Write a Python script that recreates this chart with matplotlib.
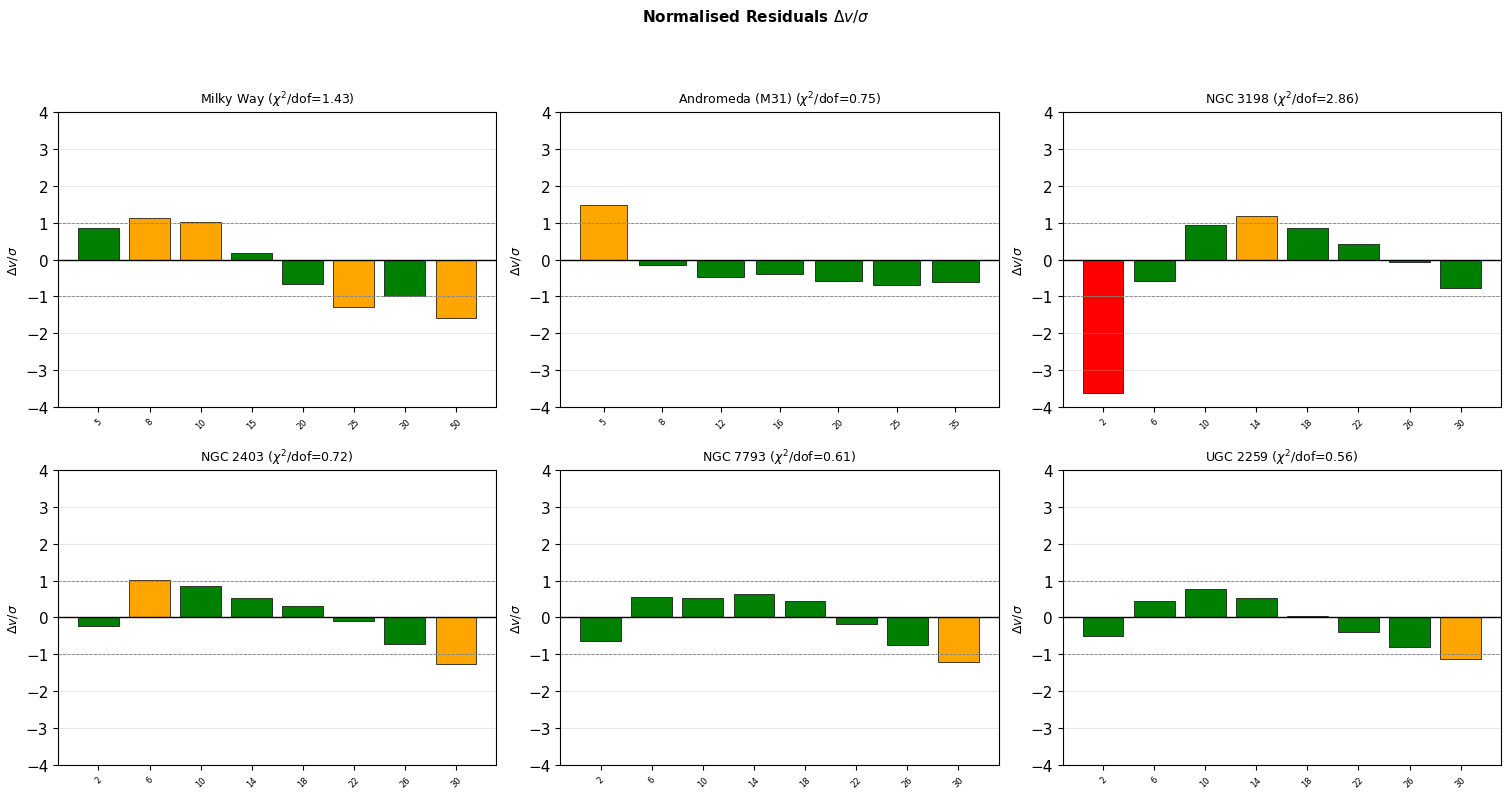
import matplotlib
matplotlib.use("Agg")
from matplotlib import pyplot as plt
import numpy as np

names = ["Milky Way", "Andromeda (M31)", "NGC 3198", "NGC 2403", "NGC 7793", "UGC 2259"]
chi2 = [1.43, 0.75, 2.86, 0.72, 0.61, 0.56]

radii_mw = ["5", "8", "10", "15", "20", "25", "30", "50"]
radii_m31 = ["5", "8", "12", "16", "20", "25", "35"]
radii_std = ["2", "6", "10", "14", "18", "22", "26", "30"]

res_mw = [0.86, 1.13, 1.01, 0.18, -0.67, -1.29, -0.99, -1.59]
res_m31 = [1.48, -0.14, -0.48, -0.39, -0.59, -0.70, -0.61]
res_3198 = [-3.62, -0.59, 0.94, 1.17, 0.86, 0.43, -0.06, -0.78]
res_2403 = [-0.22, 1.01, 0.86, 0.54, 0.32, -0.10, -0.73, -1.27]
res_7793 = [-0.63, 0.56, 0.54, 0.63, 0.45, -0.19, -0.74, -1.22]
res_2259 = [-0.49, 0.45, 0.77, 0.52, 0.05, -0.40, -0.79, -1.13]

radii = [radii_mw, radii_m31, radii_std, radii_std, radii_std, radii_std]
residuals = [res_mw, res_m31, res_3198, res_2403, res_7793, res_2259]


def colour(r):
    if abs(r) < 1:
        return "green"
    elif abs(r) < 2:
        return "orange"
    return "red"


fig, axes = plt.subplots(2, 3, figsize=(15.12, 8.12), dpi=100)
fig.subplots_adjust(left=0.0384, right=0.9927, top=0.8608, bottom=0.0567,
                    wspace=0.146, hspace=0.2136)

for ax, name, c2, r, res in zip(axes.flat, names, chi2, radii, residuals):
    x = np.arange(len(res))
    ax.bar(x, res, width=0.8, color=[colour(v) for v in res],
           edgecolor="black", linewidth=0.5)
    ax.axhline(0, color="black", linewidth=1)
    ax.axhline(1, color="gray", linestyle="--", linewidth=0.6)
    ax.axhline(-1, color="gray", linestyle="--", linewidth=0.6)
    ax.set_xticks(x)
    ax.set_xticklabels(r, rotation=45, fontsize=6)
    ax.set_ylim(-4, 4)
    ax.tick_params(axis="y", labelsize=11)
    ax.set_ylabel(r"$\Delta v/\sigma$", fontsize=9)
    ax.set_title(f"{name} ($\\chi^2$/dof={c2:.2f})", fontsize=9)
    ax.grid(True, axis="y", alpha=0.3)

fig.suptitle(r"Normalised Residuals $\Delta v/\sigma$", fontsize=11,
             fontweight="bold", y=0.99)
fig.savefig("out.png", dpi=100)
